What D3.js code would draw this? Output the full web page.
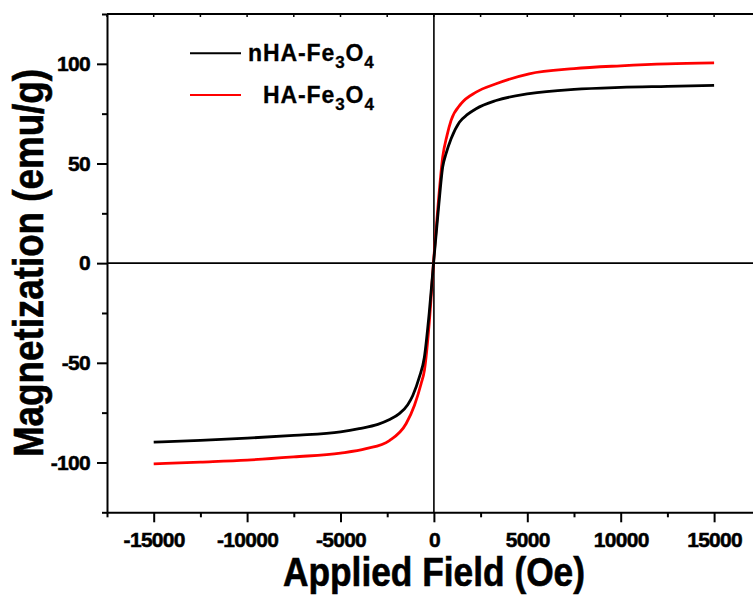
<!DOCTYPE html>
<html><head><meta charset="utf-8">
<script src="https://cdn.jsdelivr.net/npm/d3@7"></script>
<style>body{margin:0;background:#fff}svg{display:block}text{font-family:"Liberation Sans",Arial,sans-serif;font-weight:bold}</style>
</head><body>
<svg id="c" width="753" height="596"></svg>
<script>
const fieldBlack = [-15000,-12500,-10000,-7500,-5000,-4000,-3000,-2400,-1850,-1400,-1130,-780,-510,-250,0,250,470,650,920,1365,1800,2260,3330,5100,7500,10000,12500,15000];
const magBlack   = [-89.8,-88.9,-87.8,-86.4,-84.6,-83.0,-80.9,-78.6,-75.5,-71,-66.4,-57.2,-47.2,-25,2,28,48.2,54.9,62.4,70.7,74.6,77.5,81.6,85,87.2,88.2,88.7,89.2];
const fieldRed = [-15000,-12500,-10000,-7500,-5000,-3630,-2380,-1490,-1044,-685,-508,-250,0,250,470,700,920,1456,2260,3330,5100,7500,10000,12500,15000];
const magRed   = [-100.7,-99.8,-98.8,-97.2,-95.3,-93.1,-89,-80.6,-71.4,-60.5,-53.8,-30,3,32,53.2,64,71.6,80,85.8,90,95,97.6,99,100,100.5];
const seriesNames = ["nHA-Fe3O4","HA-Fe3O4"];
const seriesColors = ["#000000","#ff0000"];
const xTicks = d3.range(-17500,17501,2500);
const yTicks = d3.range(-125,126,25);
const xLabelStep = 5000, yLabelStep = 50;

const svg = d3.select("#c");
const x = d3.scaleLinear().domain([-17500,17500]).range([107,760.8]);
const y = d3.scaleLinear().domain([-125,125]).range([512.3,14]);

// top frame
svg.append("line").attr("x1",x(-17500)).attr("x2",x(17500)).attr("y1",y(125)).attr("y2",y(125)).attr("stroke","#000").attr("stroke-width",2);
svg.append("line").attr("x1",x(17500)).attr("x2",x(17500)).attr("y1",y(125)).attr("y2",y(-125)).attr("stroke","#000").attr("stroke-width",2);
svg.selectAll(".tt").data(xTicks).enter().append("line").attr("x1",d=>x(d)).attr("x2",d=>x(d)).attr("y1",y(125)).attr("y2",y(125)+3).attr("stroke","#000").attr("stroke-width",1.5);

// zero lines
svg.append("line").attr("x1",x(-17500)).attr("x2",x(17500)).attr("y1",y(0)).attr("y2",y(0)).attr("stroke","#000").attr("stroke-width",1.6);
svg.append("line").attr("x1",x(0)).attr("x2",x(0)).attr("y1",y(125)).attr("y2",y(-125)).attr("stroke","#000").attr("stroke-width",1.6);

// curves
const line = d3.line().x(d=>x(d[0])).y(d=>y(d[1])).curve(d3.curveMonotoneX);
const data = [d3.zip(fieldBlack,magBlack), d3.zip(fieldRed,magRed)];
[1,0].forEach(i=>{
  svg.append("path").datum(data[i]).attr("d",line).attr("fill","none").attr("stroke",seriesColors[i]).attr("stroke-width",2.8).attr("stroke-linejoin","round");
});

function styleTickText(sel){
  sel.attr("font-size",21).attr("font-family","Liberation Sans, Arial, sans-serif").attr("font-weight","bold")
     .attr("letter-spacing",-0.7).attr("fill","#000").attr("stroke","#000").attr("stroke-width",0.5);
}
// axes
const xAxis = svg.append("g").attr("transform",`translate(0,${y(-125)})`)
  .call(d3.axisBottom(x).tickValues(xTicks).tickSize(10).tickSizeOuter(0).tickPadding(10)
    .tickFormat(d=> d % xLabelStep === 0 ? String(d) : ""));
xAxis.selectAll(".tick line").filter(d=>d % xLabelStep !== 0).attr("y2",5);
xAxis.select(".domain").attr("stroke-width",2);
xAxis.selectAll(".tick line").attr("stroke-width",2);
styleTickText(xAxis.selectAll("text"));

const yAxis = svg.append("g").attr("transform",`translate(${x(-17500)},0)`)
  .call(d3.axisLeft(y).tickValues(yTicks).tickSize(10).tickSizeOuter(0).tickPadding(7)
    .tickFormat(d=> (d % yLabelStep === 0) ? String(d) : ""));
yAxis.selectAll(".tick line").filter(d=>d % yLabelStep !== 0).attr("x2",-5);
yAxis.select(".domain").attr("stroke-width",2);
yAxis.selectAll(".tick line").attr("stroke-width",2);
styleTickText(yAxis.selectAll("text"));

// titles
svg.append("text").attr("x",434).attr("y",586).attr("text-anchor","middle").attr("font-size",40)
  .attr("textLength",302).attr("lengthAdjust","spacingAndGlyphs").attr("stroke","#000").attr("stroke-width",0.6).text("Applied Field (Oe)");
svg.append("text").attr("transform","translate(43,263) rotate(-90)").attr("text-anchor","middle").attr("font-size",42)
  .attr("textLength",388).attr("lengthAdjust","spacingAndGlyphs").attr("stroke","#000").attr("stroke-width",0.6).text("Magnetization (emu/g)");

// legend
const legY = [53.3, 95];
const legTextX = [248, 263];
const legBase = [61, 103];
seriesNames.forEach((name,i)=>{
  svg.append("line").attr("x1",190).attr("x2",241).attr("y1",legY[i]).attr("y2",legY[i]).attr("stroke",seriesColors[i]).attr("stroke-width",2);
  const t = svg.append("text").attr("x",legTextX[i]).attr("y",legBase[i]).attr("font-size",23).attr("letter-spacing",0.9).attr("fill","#000").attr("stroke","#000").attr("stroke-width",0.3);
  const m = name.match(/^(.*Fe)(3)(O)(4)$/);
  t.append("tspan").text(m[1]);
  t.append("tspan").attr("font-size",17).attr("dy",7).text(m[2]);
  t.append("tspan").attr("dy",-7).text(m[3]);
  t.append("tspan").attr("font-size",17).attr("dy",7).text(m[4]);
});
</script>
</body></html>
